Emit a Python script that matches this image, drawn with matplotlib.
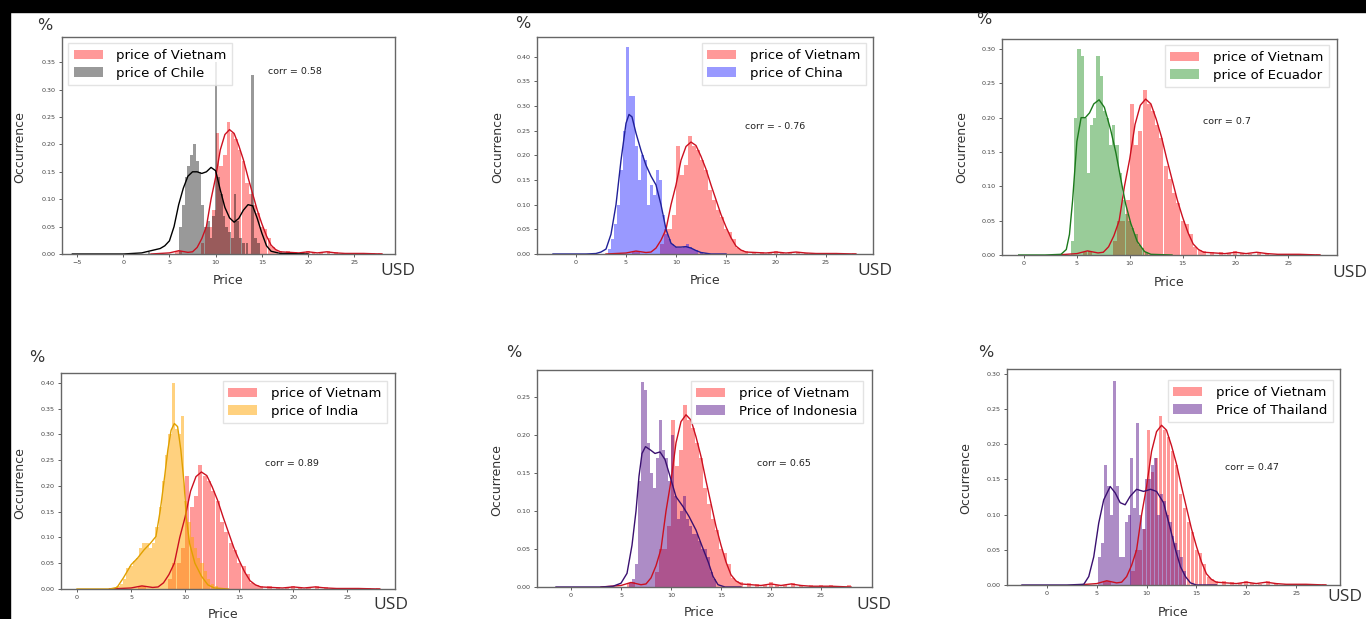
import matplotlib
matplotlib.use("Agg")
import matplotlib.pyplot as plt
from matplotlib.patches import Rectangle, Patch

# ---------------- data ----------------
# Vietnam histogram (common to all panels)
vn_bins = [5.8, 6.2, 8.6, 9.0, 9.4, 9.8, 10.2, 10.6, 11.0, 11.4, 11.8, 12.2, 12.6,
           13.0, 13.4, 13.8, 14.2, 14.6, 15.0, 15.4, 15.8, 16.2, 16.6, 17.0, 17.8,
           18.6, 19.4, 20.0, 20.6, 21.4, 22.2, 23.0, 24.0, 25.0, 26.0, 27.0, 27.8]
vn_heights = [0.005, 0.006, 0.02, 0.05, 0.05, 0.08, 0.22, 0.16, 0.18, 0.24, 0.22, 0.21, 0.19,
              0.17, 0.13, 0.11, 0.09, 0.075, 0.05, 0.045, 0.03, 0.012, 0.008, 0.006, 0.005,
              0.004, 0.003, 0.006, 0.003, 0.002, 0.005, 0.003, 0.002, 0.002, 0.002, 0.001, 0.002]
vn_kde_x = [3, 5, 6, 7, 7.5, 8, 8.5, 9, 9.5, 10, 10.5, 11, 11.5, 12, 12.5, 13, 13.5, 14,
            14.5, 15, 15.5, 16, 16.5, 17, 18, 19, 20, 21, 22, 23, 24, 26, 28]
vn_kde_y = [0, 0.002, 0.006, 0.003, 0.004, 0.012, 0.028, 0.05, 0.1, 0.14, 0.19, 0.218, 0.227,
            0.22, 0.198, 0.172, 0.14, 0.11, 0.08, 0.055, 0.033, 0.016, 0.008, 0.004, 0.003,
            0.002, 0.004, 0.002, 0.004, 0.002, 0.001, 0.001, 0]

# Chile
cl_bins = [2.8, 6.2, 6.5, 6.8, 7.1, 7.4, 7.7, 8.0, 8.3, 8.6, 8.9, 9.2, 9.5, 9.8, 10.05, 10.3,
           10.6, 10.9, 11.2, 11.5, 11.8, 12.1, 12.4, 12.7, 13.0, 13.4, 13.95, 14.3, 14.6]
cl_heights = [0.003, 0.05, 0.09, 0.14, 0.16, 0.18, 0.2, 0.17, 0.15, 0.09, 0.05, 0.06, 0.03, 0.07,
              0.35, 0.14, 0.11, 0.07, 0.05, 0.04, 0.03, 0.11, 0.06, 0.03, 0.02, 0.02, 0.327, 0.03, 0.02]
cl_kde_x = [-5.5, 0, 2, 3, 4, 4.5, 5, 5.5, 6, 6.5, 7, 7.5, 8, 8.5, 9, 9.5, 10, 10.5, 11, 11.5,
            12, 12.5, 13, 13.5, 14, 14.5, 15, 15.5, 16, 17, 20]
cl_kde_y = [0, 0, 0.002, 0.006, 0.01, 0.015, 0.024, 0.05, 0.09, 0.12, 0.142, 0.15, 0.15, 0.147,
            0.15, 0.158, 0.152, 0.117, 0.085, 0.066, 0.058, 0.065, 0.08, 0.09, 0.088, 0.065,
            0.038, 0.015, 0.005, 0.001, 0]

# China
cn_bins = [3.3, 3.6, 3.9, 4.2, 4.5, 4.8, 5.1, 5.4, 5.7, 6.0, 6.3, 6.6, 6.9, 7.2, 7.5, 7.8, 8.1,
           8.4, 8.7, 9.0, 9.3, 9.6, 9.9, 10.2, 10.5, 10.8, 11.1, 11.4, 11.7, 12.0, 12.5, 13.0]
cn_heights = [0.01, 0.03, 0.06, 0.1, 0.17, 0.25, 0.42, 0.32, 0.32, 0.22, 0.15, 0.2, 0.19, 0.1,
              0.14, 0.12, 0.17, 0.15, 0.08, 0.04, 0.03, 0.02, 0.015, 0.012, 0.012, 0.015, 0.02,
              0.015, 0.01, 0.008, 0.005, 0.003]
cn_kde_x = [-2.3, 1, 2, 2.5, 3, 3.5, 4, 4.5, 5, 5.3, 5.6, 6, 6.5, 7, 7.5, 8, 8.5, 9, 9.5, 10,
            10.5, 11, 11.5, 12, 12.5, 13.5, 15]
cn_kde_y = [0, 0, 0.001, 0.004, 0.01, 0.04, 0.1, 0.19, 0.265, 0.283, 0.278, 0.245, 0.21, 0.18,
            0.158, 0.14, 0.1, 0.05, 0.022, 0.014, 0.014, 0.015, 0.012, 0.007, 0.003, 0, 0]

# Ecuador
ec_bins = [4.6, 4.9, 5.2, 5.5, 5.8, 6.1, 6.4, 6.7, 7.0, 7.3, 7.6, 7.9, 8.2, 8.5, 8.8, 9.1,
           9.4, 9.7, 10.0, 10.3, 10.6, 10.9, 11.2, 11.6]
ec_heights = [0.02, 0.2, 0.3, 0.29, 0.2, 0.12, 0.19, 0.2, 0.29, 0.26, 0.21, 0.2, 0.16, 0.19,
              0.16, 0.12, 0.08, 0.06, 0.05, 0.04, 0.03, 0.015, 0.01, 0.005]
ec_kde_x = [-0.5, 2, 3.5, 4, 4.3, 4.6, 5, 5.4, 5.8, 6.2, 6.6, 7.1, 7.6, 8.2, 8.7, 9.2, 9.6,
            10.1, 10.7, 11.4, 12, 14]
ec_kde_y = [0, 0, 0.001, 0.008, 0.03, 0.08, 0.165, 0.2, 0.2, 0.207, 0.22, 0.226, 0.215, 0.182,
            0.148, 0.107, 0.075, 0.046, 0.02, 0.005, 0.001, 0]

# India
in_bins = [3.8, 4.1, 4.4, 4.7, 5.0, 5.3, 5.6, 5.9, 6.2, 6.5, 6.8, 7.1, 7.4, 7.7, 8.0, 8.3, 8.6,
           8.95, 9.2, 9.5, 9.75, 10.05, 10.35, 10.65, 10.95, 11.25, 11.55, 11.85, 12.15, 12.5, 12.9]
in_heights = [0.005, 0.01, 0.02, 0.04, 0.045, 0.055, 0.06, 0.08, 0.09, 0.09, 0.08, 0.09, 0.12,
              0.16, 0.21, 0.26, 0.3, 0.40, 0.31, 0.30, 0.335, 0.17, 0.13, 0.1, 0.08, 0.06, 0.05,
              0.035, 0.02, 0.01, 0.005]
in_kde_x = [0, 3, 3.7, 4.3, 5, 5.6, 6.2, 6.8, 7.3, 7.7, 8.1, 8.4, 8.7, 9.0, 9.3, 9.6, 9.9, 10.1,
            10.4, 10.9, 11.5, 12.1, 12.7, 14]
in_kde_y = [0, 0, 0.003, 0.022, 0.047, 0.06, 0.076, 0.089, 0.102, 0.153, 0.218, 0.27, 0.308,
            0.321, 0.315, 0.27, 0.205, 0.14, 0.089, 0.05, 0.025, 0.008, 0.002, 0]

# Indonesia
id_bins = [5.9, 6.2, 6.5, 6.8, 7.1, 7.4, 7.7, 8.0, 8.3, 8.6, 8.9, 9.2, 9.5, 9.8, 10.1, 10.4,
           10.7, 11.0, 11.3, 11.6, 11.9, 12.2, 12.5, 12.8, 13.1, 13.4, 13.7, 14.0, 14.3]
id_heights = [0.005, 0.01, 0.03, 0.14, 0.27, 0.26, 0.19, 0.15, 0.13, 0.17, 0.22, 0.18, 0.17,
              0.14, 0.2, 0.12, 0.09, 0.1, 0.12, 0.09, 0.08, 0.07, 0.07, 0.06, 0.05, 0.05, 0.04,
              0.02, 0.01]
id_kde_x = [-1.5, 3, 4.2, 5, 5.6, 6.1, 6.5, 6.8, 7.1, 7.45, 7.9, 8.4, 8.9, 9.4, 9.9, 10.5,
            11.2, 11.8, 12.5, 13.1, 13.75, 14.2, 14.7, 15.4, 17]
id_kde_y = [0, 0, 0.001, 0.005, 0.018, 0.055, 0.1, 0.146, 0.176, 0.185, 0.181, 0.176, 0.178,
            0.168, 0.146, 0.119, 0.106, 0.093, 0.075, 0.054, 0.032, 0.014, 0.003, 0, 0]

# Thailand
th_bins = [5.3, 5.6, 5.9, 6.2, 6.5, 6.75, 7.05, 7.35, 7.65, 7.95, 8.25, 8.5, 8.8, 9.05, 9.35,
           9.65, 9.95, 10.25, 10.55, 10.85, 11.15, 11.45, 11.75, 12.05, 12.35, 12.65, 12.95,
           13.25, 13.55, 13.85]
th_heights = [0.04, 0.06, 0.17, 0.14, 0.1, 0.29, 0.14, 0.04, 0.04, 0.09, 0.1, 0.18, 0.11, 0.23,
              0.1, 0.08, 0.15, 0.15, 0.17, 0.18, 0.1, 0.13, 0.12, 0.1, 0.09, 0.07, 0.06, 0.05,
              0.04, 0.02]
th_kde_x = [-2.5, 2, 3.7, 4.2, 4.7, 5.2, 5.7, 6.35, 6.85, 7.35, 7.85, 8.35, 9.0, 9.7, 10.4,
            11.0, 11.7, 12.4, 12.9, 13.4, 13.9, 14.4, 15, 17]
th_kde_y = [0, 0, 0.001, 0.012, 0.04, 0.088, 0.121, 0.14, 0.131, 0.117, 0.114, 0.126, 0.136,
            0.133, 0.136, 0.133, 0.117, 0.079, 0.05, 0.026, 0.012, 0.003, 0, 0]

labels = ["price of Chile", "price of China", "price of Ecuador",
          "price of India", "Price of Indonesia", "Price of Thailand"]
corr_texts = ["corr = 0.58", "corr = - 0.76", "corr = 0.7",
              "corr = 0.89", "corr = 0.65", "corr = 0.47"]
x_ticks_list = [[-5, 0, 5, 10, 15, 20, 25]] + [[0, 5, 10, 15, 20, 25]] * 5
y_ticks_list = [[0, .05, .10, .15, .20, .25, .30, .35],
                [0, .05, .10, .15, .20, .25, .30, .35, .40],
                [0, .05, .10, .15, .20, .25, .30],
                [0, .05, .10, .15, .20, .25, .30, .35, .40],
                [0, .05, .10, .15, .20, .25],
                [0, .05, .10, .15, .20, .25, .30]]

partners = [(cl_bins, cl_heights, cl_kde_x, cl_kde_y),
            (cn_bins, cn_heights, cn_kde_x, cn_kde_y),
            (ec_bins, ec_heights, ec_kde_x, ec_kde_y),
            (in_bins, in_heights, in_kde_x, in_kde_y),
            (id_bins, id_heights, id_kde_x, id_kde_y),
            (th_bins, th_heights, th_kde_x, th_kde_y)]

# ---------------- styling / layout ----------------
W, H = 1366, 619
bar_colors = ["black", "blue", "green", "orange", "indigo", "indigo"]
bar_alphas = [0.4, 0.4, 0.4, 0.5, 0.45, 0.45]
line_colors = ["black", "#202098", "#1c7a1c", "#e0a000", "#3a1070", "#3a1070"]
vn_bar_color, vn_line_color = "red", "#cc1020"

# axes boxes in pixels: left, top, right, bottom
boxes = [(62, 37, 395, 254), (537, 37, 873, 254), (1002, 39, 1337, 255),
         (61, 373, 395, 589), (537, 370, 872, 587), (1007, 369, 1340, 585)]
xlims = [(-6.62, 29.4), (-3.9, 29.7), (-2.08, 29.6), (-1.48, 29.4), (-3.4, 30.1), (-4.0, 29.4)]
ylims = [0.396, 0.44, 0.3145, 0.419, 0.286, 0.307]
legend_anchor = [("upper left", 68, 43), ("upper right", 866, 43), ("upper right", 1329, 45),
                 ("upper right", 387, 381), ("upper right", 863, 381), ("upper right", 1333, 380)]
ylabel_pos = [(20, 147), (498, 147), (962, 147), (20, 483), (497, 480), (966, 478)]
pct_pos = [(45, 25), (523, 23), (984, 19), (37, 357), (514, 352), (986, 352)]
usd_pos = [(380, 271), (857, 271), (1332, 273), (373, 605), (856, 605), (1327, 597)]
price_pos = [(228, 280), (705, 280), (1169, 282), (223, 615), (699, 613), (1173, 612)]
corr_pos = [(268, 72), (745, 126), (1203, 122), (265, 463), (757, 464), (1225, 467)]


def fx(px):
    return px / W


def fy(py):
    return 1 - py / H


fig = plt.figure(figsize=(W / 100, H / 100), dpi=100, facecolor="white")
fig.patches.append(Rectangle((0, fy(12)), 1, 1 - fy(12), transform=fig.transFigure,
                             color="black", zorder=-10))
fig.patches.append(Rectangle((0, 0), fx(10), 1, transform=fig.transFigure,
                             color="black", zorder=-10))

for i, (bins, heights, kx, ky) in enumerate(partners):
    l, t, r, b = boxes[i]
    ax = fig.add_axes([fx(l), fy(b), fx(r - l), (b - t) / H])
    ax.bar(vn_bins, vn_heights, width=0.38, color=vn_bar_color, alpha=0.4, linewidth=0)
    ax.plot(vn_kde_x, vn_kde_y, color=vn_line_color, lw=1.0)
    ax.bar(bins, heights, width=0.3, color=bar_colors[i], alpha=bar_alphas[i], linewidth=0)
    ax.plot(kx, ky, color=line_colors[i], lw=1.0)
    ax.set_xlim(*xlims[i])
    ax.set_ylim(0, ylims[i])
    ax.set_xticks(x_ticks_list[i])
    ax.set_yticks(y_ticks_list[i])
    ax.set_yticklabels(["%.2f" % v for v in y_ticks_list[i]])
    ax.tick_params(labelsize=4.6, length=2.5, width=0.6, colors="#444444", pad=2)
    for s in ax.spines.values():
        s.set_color("#666666")
        s.set_linewidth(1.0)
    handles = [Patch(facecolor=vn_bar_color, alpha=0.4, linewidth=0),
               Patch(facecolor=bar_colors[i], alpha=bar_alphas[i], linewidth=0)]
    loc, lx, ly = legend_anchor[i]
    ax.legend(handles, ["price of Vietnam", labels[i]], loc=loc,
              bbox_to_anchor=(fx(lx), fy(ly)), bbox_transform=fig.transFigure,
              borderaxespad=0, fontsize=9.5, handlelength=2.2, handletextpad=1.0,
              labelspacing=0.35, borderpad=0.45, framealpha=0.8, edgecolor="#dddddd",
              fancybox=False)
    ax.text(fx(corr_pos[i][0]), fy(corr_pos[i][1]), corr_texts[i], transform=fig.transFigure,
            fontsize=6.8, color="#222222", ha="left", va="center")
    fig.text(fx(ylabel_pos[i][0]), fy(ylabel_pos[i][1]), "Occurrence", rotation=90,
             fontsize=9, color="#333333", ha="center", va="center")
    fig.text(fx(price_pos[i][0]), fy(price_pos[i][1]), "Price", fontsize=9,
             color="#333333", ha="center", va="center")
    fig.text(fx(pct_pos[i][0]), fy(pct_pos[i][1]), "%", fontsize=11.5,
             color="#333333", ha="center", va="center")
    fig.text(fx(usd_pos[i][0]), fy(usd_pos[i][1]), "USD", fontsize=12.5,
             family="Open Sans", color="#333333", ha="left", va="center")

fig.savefig("out.png", dpi=100, facecolor=fig.get_facecolor())
